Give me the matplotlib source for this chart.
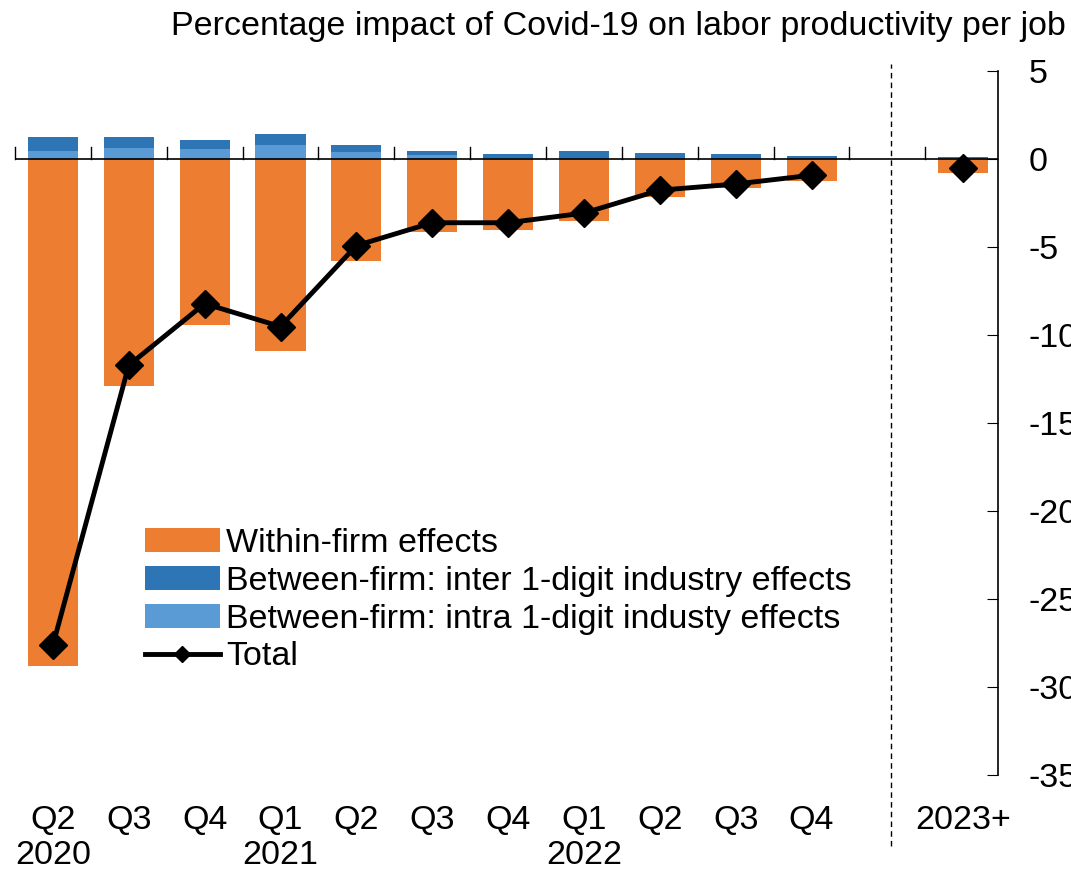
import numpy as np
import matplotlib.pyplot as plt
from matplotlib.transforms import blended_transform_factory

quarters = ["Q2", "Q3", "Q4", "Q1", "Q2", "Q3", "Q4", "Q1", "Q2", "Q3", "Q4", "2023+"]
years = {0: "2020", 3: "2021", 7: "2022"}
within = [-28.8, -12.9, -9.4, -10.9, -5.8, -4.1, -4.0, -3.5, -2.15, -1.65, -1.2, -0.75]
intra = [0.5, 0.65, 0.6, 0.8, 0.4, 0.25, 0.1, 0.02, 0.0, 0.0, 0.0, 0.0]
inter = [0.75, 0.6, 0.5, 0.65, 0.4, 0.2, 0.2, 0.43, 0.35, 0.3, 0.2, 0.15]
total = [-27.6, -11.7, -8.2, -9.5, -4.9, -3.6, -3.6, -3.05, -1.75, -1.4, -0.9, -0.5]

plt.rcParams['font.family'] = ['Liberation Sans', 'DejaVu Sans']
plt.rcParams['axes.unicode_minus'] = False
fs = 24.5
fig = plt.figure(figsize=(10.71, 8.71), dpi=100)
ax = fig.add_axes([0.014, 0.110, 0.918, 0.808])

x = np.array(list(range(11)) + [12])
w = 0.66
orange = "#ED7D31"
dark = "#2E75B6"
light = "#5B9BD5"
ax.bar(x, within, w, color=orange, label="Within-firm effects")
ax.bar(x, inter, w, bottom=intra, color=dark, label="Between-firm: inter 1-digit industry effects")
ax.bar(x, intra, w, color=light, label="Between-firm: intra 1-digit industy effects")
ax.plot(x[:11], total[:11], color="black", lw=3.5, marker="D", ms=14, label="Total")
ax.plot(x[11:], total[11:], color="black", lw=3.5, marker="D", ms=14)

ax.set_xlim(-0.5, 12.46)
ax.set_ylim(-35, 5)
ax.axhline(0, color="black", lw=1.2)
ax.axvline(11.05, ymin=-0.1, ymax=1.01, color="black", ls=(0, (4, 3)), lw=1, clip_on=False)

for s in ["top", "left", "bottom"]:
    ax.spines[s].set_visible(False)
ax.spines["right"].set_linewidth(1.2)
ax.yaxis.tick_right()
ax.set_yticks(range(-35, 6, 5))
ax.tick_params(axis="y", direction="in", length=8, labelsize=fs, pad=22)
ax.set_xticks([])
for t in np.arange(-0.5, 12, 1):
    ax.plot([t, t], [0, 0.7], color="black", lw=1, clip_on=False)

tr = blended_transform_factory(ax.transData, fig.transFigure)
for xi, q in zip(x, quarters):
    ax.text(xi, 0.058, q, transform=tr, ha="center", va="center", fontsize=fs)
for xi, yr in years.items():
    ax.text(xi, 0.018, yr, transform=tr, ha="center", va="center", fontsize=fs)

fig.text(0.995, 0.97, "Percentage impact of Covid-19 on labor productivity per job",
         ha="right", va="center", fontsize=fs)

h, l = ax.get_legend_handles_labels()
order = [1, 2, 3, 0]
ax.legend([h[i] for i in order], [l[i] for i in order], loc="lower left",
          bbox_to_anchor=(0.132, 0.146), frameon=False, fontsize=fs, markerscale=0.6,
          handlelength=2.2, handletextpad=0.2, labelspacing=0.2, borderaxespad=0,
          borderpad=0)

fig.savefig("out.png", dpi=100)
